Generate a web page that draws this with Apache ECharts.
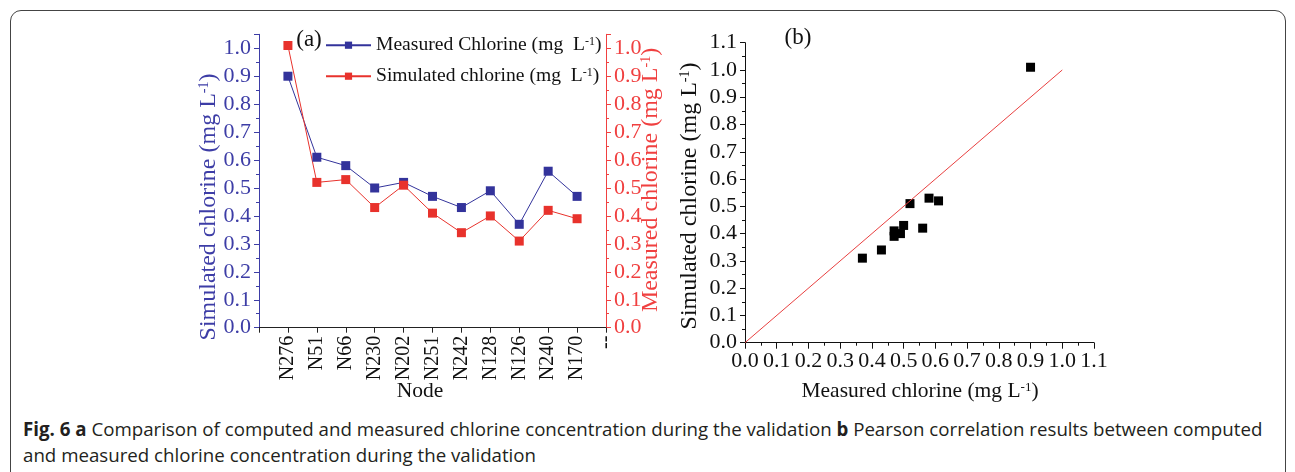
<!DOCTYPE html>
<html>
<head>
<meta charset="utf-8">
<script src="https://cdn.jsdelivr.net/npm/echarts/dist/echarts.min.js"></script>
<style>
  html, body { margin: 0; padding: 0; background: #ffffff; }
  #wrap { position: relative; width: 1295px; height: 472px; overflow: hidden; }
  #frame { position: absolute; left: 10px; top: 10px; width: 1276px; height: 480px;
           border: 1.5px solid #444; border-radius: 11px; box-sizing: border-box; }
  #chart { position: absolute; left: 0; top: 0; width: 1295px; height: 412px; }
  #caption { position: absolute; left: 23px; top: 416px; font-family: "Open Sans", sans-serif;
             font-size: 18.7px; line-height: 26px; color: #231f20; white-space: nowrap; }
</style>
</head>
<body>
<div id="wrap">
  <div id="frame"></div>
  <div id="chart"></div>
  <div id="caption"><b>Fig. 6 a</b> Comparison of computed and measured chlorine concentration during the validation <b>b</b> Pearson correlation results between computed<br>and measured chlorine concentration during the validation</div>
</div>
<script>
// ---------------- data ----------------
const nodes = ['N276', 'N51', 'N66', 'N230', 'N202', 'N251', 'N242', 'N128', 'N126', 'N240', 'N170'];
const measured = [0.90, 0.61, 0.58, 0.50, 0.52, 0.47, 0.43, 0.49, 0.37, 0.56, 0.47];
const simulated = [1.01, 0.52, 0.53, 0.43, 0.51, 0.41, 0.34, 0.40, 0.31, 0.42, 0.39];
const endLabel = '--';
const identityLine = [0, 1];
const measuredName = 'Measured Chlorine (mg  L-1)';
const simulatedName = 'Simulated chlorine (mg  L-1)';

// ---------------- styles ----------------
const SERIF = '"Liberation Serif", "DejaVu Serif", serif';
const BLUE = '#33339b';
const BLUE_TXT = '#3d3da6';
const RED = '#e8322c';
const RED_AX = '#f04040';
const FS_TICK = 22;
const FS_XROT = 20;
const FS_VTITLE = 24;
const FS_HTITLE = 21.5;
const FS_LEG = 19.6;

function richFor(color, fs) {
  return {
    n: { fontFamily: SERIF, fontSize: fs, color: color, lineHeight: fs, verticalAlign: 'bottom' },
    s: { fontFamily: SERIF, fontSize: Math.round(fs * 0.6), color: color, lineHeight: fs, verticalAlign: 'top' }
  };
}
function supText(str) {
  const i = str.lastIndexOf('-1');
  return '{n|' + str.slice(0, i) + '}{s|-1}{n|' + str.slice(i + 2) + '}';
}
function title(x, y, str, color, fs, rotated) {
  return {
    type: 'text', x: x, y: y, rotation: rotated ? Math.PI / 2 : 0,
    style: { text: supText(str), rich: richFor(color, fs), fill: color,
             align: 'center', verticalAlign: 'middle', textAlign: 'center', textVerticalAlign: 'middle' }
  };
}
function plain(x, y, str, fs) {
  return {
    type: 'text', x: x, y: y,
    style: { text: str, font: fs + 'px ' + SERIF, fill: '#111',
             align: 'center', verticalAlign: 'middle', textAlign: 'center', textVerticalAlign: 'middle' }
  };
}
function valueAxisY(grid, pos, max, color) {
  return {
    gridIndex: grid, type: 'value', position: pos, min: 0, max: max, interval: 0.1,
    axisLine: { show: true, onZero: false, lineStyle: { color: color, width: 1 } },
    axisTick: { show: true, inside: false, length: 5, lineStyle: { color: color } },
    minorTick: { show: true, splitNumber: 2, length: 3, lineStyle: { color: color } },
    splitLine: { show: false },
    axisLabel: { margin: 8, fontFamily: SERIF, fontSize: FS_TICK, color: color, showMaxLabel: max === 1.1,
                 formatter: function (v) { return v.toFixed(1); } }
  };
}

const chart = echarts.init(document.getElementById('chart'), null, { renderer: 'canvas' });

const option = {
  animation: false,
  backgroundColor: 'transparent',
  grid: [
    { left: 259, top: 34.3, width: 347, height: 293.4, containLabel: false },
    { left: 745, top: 42.7, width: 349, height: 300, containLabel: false }
  ],
  legend: {
    orient: 'vertical',
    left: 325, top: 35, padding: 0,
    itemWidth: 45, itemHeight: 9, itemGap: 11,
    data: [measuredName, simulatedName],
    formatter: function (name) { return supText(name); },
    textStyle: { fontFamily: SERIF, fontSize: FS_LEG, color: '#111', rich: richFor('#111', FS_LEG) }
  },
  xAxis: [
    {
      gridIndex: 0, type: 'value', min: 0, max: nodes.length + 1, interval: 1,
      axisLine: { show: true, onZero: false, lineStyle: { color: '#222', width: 1 } },
      axisTick: { show: true, inside: false, length: 5, lineStyle: { color: '#222' } },
      splitLine: { show: false },
      axisLabel: {
        rotate: 90, margin: 8, fontFamily: SERIF, fontSize: FS_XROT, color: '#111',
        showMinLabel: true, showMaxLabel: true,
        formatter: function (v) {
          if (v >= 1 && v <= nodes.length) return nodes[v - 1];
          if (v === nodes.length + 1) return endLabel;
          return '';
        }
      }
    },
    {
      gridIndex: 1, type: 'value', min: 0, max: 1.1, interval: 0.1,
      axisLine: { show: true, onZero: false, lineStyle: { color: '#111', width: 1 } },
      axisTick: { show: true, inside: false, length: 6, lineStyle: { color: '#111' } },
      minorTick: { show: true, splitNumber: 2, length: 3, lineStyle: { color: '#111' } },
      splitLine: { show: false },
      axisLabel: { margin: 8, fontFamily: SERIF, fontSize: FS_TICK, color: '#111',
                   formatter: function (v) { return v.toFixed(1); } }
    }
  ],
  yAxis: [
    valueAxisY(0, 'left', 1.05, BLUE_TXT),
    valueAxisY(0, 'right', 1.05, RED_AX),
    valueAxisY(1, 'left', 1.1, '#111')
  ],
  series: [
    {
      name: measuredName, type: 'line', xAxisIndex: 0, yAxisIndex: 0,
      data: measured.map(function (v, i) { return [i + 1, v]; }),
      symbol: 'rect', symbolSize: 9,
      lineStyle: { color: BLUE, width: 1 }, itemStyle: { color: BLUE }
    },
    {
      name: simulatedName, type: 'line', xAxisIndex: 0, yAxisIndex: 1,
      data: simulated.map(function (v, i) { return [i + 1, v]; }),
      symbol: 'rect', symbolSize: 9,
      lineStyle: { color: RED, width: 1 }, itemStyle: { color: RED }
    },
    {
      name: 'identity', type: 'line', xAxisIndex: 1, yAxisIndex: 2,
      data: identityLine.map(function (v) { return [v, v]; }),
      symbol: 'none', lineStyle: { color: '#e84040', width: 1 }, silent: true
    },
    {
      name: 'scatter', type: 'scatter', xAxisIndex: 1, yAxisIndex: 2,
      data: measured.map(function (m, i) { return [m, simulated[i]]; }),
      symbol: 'rect', symbolSize: 9, itemStyle: { color: '#000', opacity: 1 }
    }
  ],
  graphic: [
    plain(309, 40, '(a)', 23),
    plain(798, 38, '(b)', 23),
    title(209, 207, 'Simulated chlorine (mg L-1)', BLUE_TXT, FS_VTITLE, true),
    title(651, 180, 'Measured chlorine (mg L-1)', RED_AX, FS_VTITLE, true),
    title(690, 196, 'Simulated chlorine (mg L-1)', '#111', FS_VTITLE, true),
    plain(420, 391, 'Node', FS_HTITLE),
    title(920, 392, 'Measured chlorine (mg L-1)', '#111', FS_HTITLE, false)
  ]
};
chart.setOption(option);
</script>
</body>
</html>
